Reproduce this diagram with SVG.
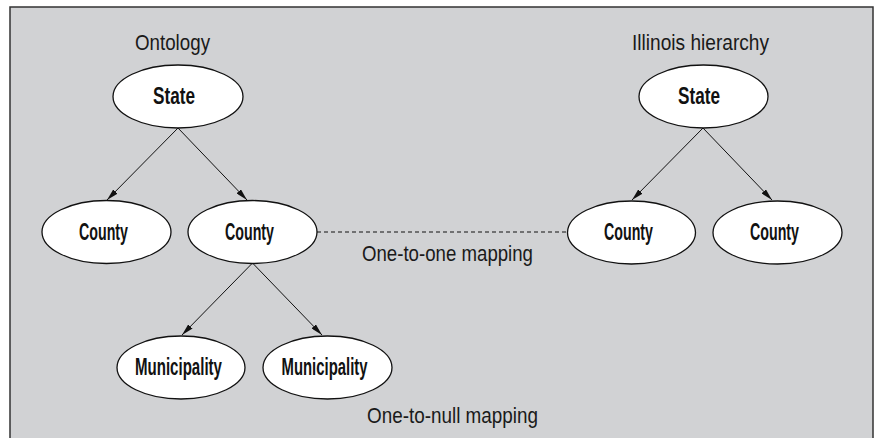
<svg xmlns="http://www.w3.org/2000/svg" width="876" height="438" viewBox="0 0 876 438">
  <style>
    .node ellipse { fill: #ffffff; stroke: #111111; stroke-width: 1.3; }
    .node text { font-family: "Liberation Sans", Arial, sans-serif; font-weight: bold; font-size: 23.5px; fill: #111111; text-anchor: middle; }
    .label { font-family: "Liberation Sans", Arial, sans-serif; font-size: 22.5px; fill: #1a1a1a; text-anchor: middle; }
    .edge { stroke: #111111; stroke-width: 1; fill: none; }
    .map { stroke: #111111; stroke-width: 1; fill: none; stroke-dasharray: 4 3; }
  </style>
  <defs>
    <marker id="arrow" viewBox="0 0 12 6" refX="12" refY="3" markerWidth="12" markerHeight="6" markerUnits="userSpaceOnUse" orient="auto">
      <path d="M0,0 L12,3 L0,6 Z" fill="#111111"/>
    </marker>
  </defs>

  <rect x="10" y="7" width="863" height="440" fill="#d1d2d4" stroke="#333333" stroke-width="1.5"/>

  <text class="label" x="172.5" y="50" textLength="75" lengthAdjust="spacingAndGlyphs">Ontology</text>
  <text class="label" x="700.5" y="50" textLength="137" lengthAdjust="spacingAndGlyphs">Illinois hierarchy</text>
  <text class="label" x="447.5" y="261" textLength="171" lengthAdjust="spacingAndGlyphs">One-to-one mapping</text>
  <text class="label" x="452.5" y="423" textLength="171" lengthAdjust="spacingAndGlyphs">One-to-null mapping</text>

  <g id="connectors">
    <line class="edge" x1="178" y1="128" x2="107" y2="200" marker-end="url(#arrow)"/>
    <line class="edge" x1="178" y1="128" x2="247" y2="200" marker-end="url(#arrow)"/>
    <line class="edge" x1="252.5" y1="263" x2="182" y2="335" marker-end="url(#arrow)"/>
    <line class="edge" x1="252.5" y1="263" x2="322" y2="335" marker-end="url(#arrow)"/>
    <line class="edge" x1="703" y1="128" x2="632" y2="200" marker-end="url(#arrow)"/>
    <line class="edge" x1="703" y1="128" x2="772" y2="200" marker-end="url(#arrow)"/>
    <line class="map" x1="317" y1="232" x2="567" y2="232"/>
  </g>

  <g id="ont-state" class="node">
    <ellipse cx="178" cy="96.5" rx="65" ry="31.5"/>
    <text x="174" y="104" textLength="42" lengthAdjust="spacingAndGlyphs">State</text>
  </g>
  <g id="ont-county1" class="node">
    <ellipse cx="106.5" cy="232" rx="64.5" ry="31.5"/>
    <text x="103.5" y="240" textLength="49" lengthAdjust="spacingAndGlyphs">County</text>
  </g>
  <g id="ont-county2" class="node">
    <ellipse cx="252.5" cy="232" rx="64.5" ry="31.5"/>
    <text x="249.5" y="240" textLength="49" lengthAdjust="spacingAndGlyphs">County</text>
  </g>
  <g id="ont-muni1" class="node">
    <ellipse cx="181" cy="367.5" rx="64" ry="31.5"/>
    <text x="178.5" y="375" textLength="87" lengthAdjust="spacingAndGlyphs">Municipality</text>
  </g>
  <g id="ont-muni2" class="node">
    <ellipse cx="327.5" cy="367.5" rx="64.5" ry="31.5"/>
    <text x="324.5" y="375" textLength="86" lengthAdjust="spacingAndGlyphs">Municipality</text>
  </g>

  <g id="il-state" class="node">
    <ellipse cx="703.5" cy="96.5" rx="64.5" ry="31.5"/>
    <text x="699" y="104" textLength="42" lengthAdjust="spacingAndGlyphs">State</text>
  </g>
  <g id="il-county1" class="node">
    <ellipse cx="631.5" cy="232.5" rx="64" ry="31.5"/>
    <text x="628.5" y="240" textLength="49" lengthAdjust="spacingAndGlyphs">County</text>
  </g>
  <g id="il-county2" class="node">
    <ellipse cx="777.5" cy="232.5" rx="64.5" ry="31.5"/>
    <text x="774.5" y="240" textLength="49" lengthAdjust="spacingAndGlyphs">County</text>
  </g>
</svg>
